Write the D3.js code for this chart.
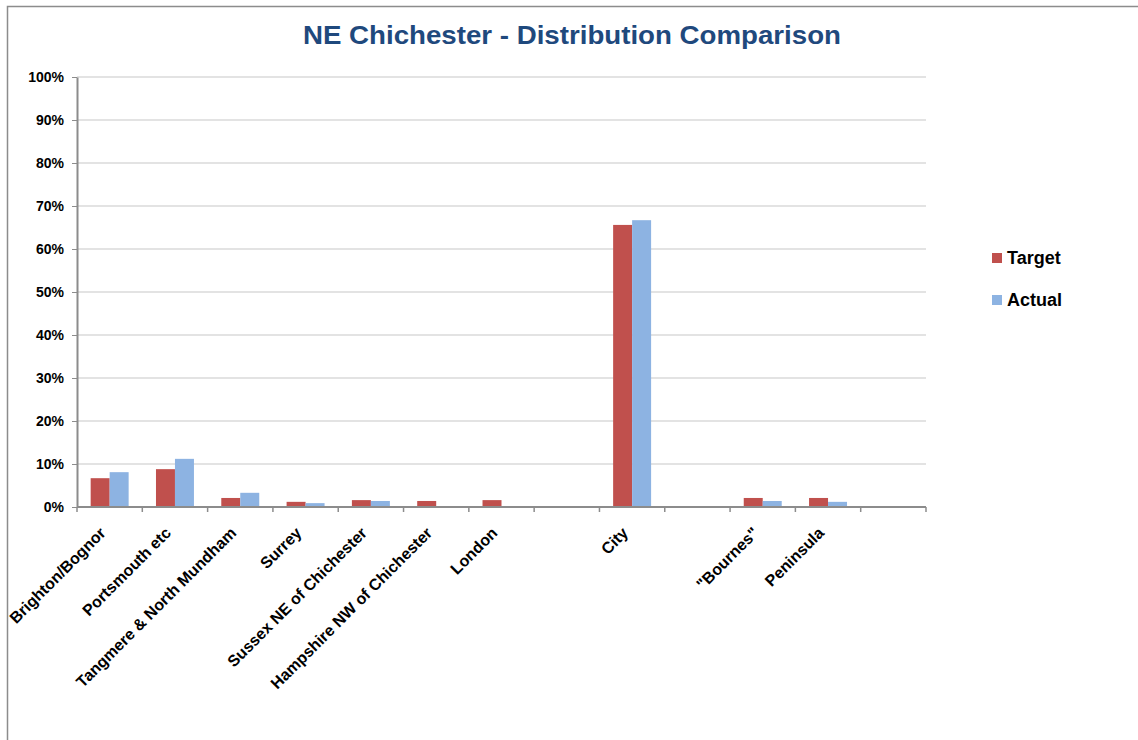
<!DOCTYPE html>
<html>
<head>
<meta charset="utf-8">
<script src="https://cdn.jsdelivr.net/npm/d3@7"></script>
<style>
  body { margin: 0; background: #fff; }
  svg { display: block; font-family: "Liberation Sans", Arial, sans-serif; }
</style>
</head>
<body>
<div id="chart"></div>
<script>
// categories (blank slots are empty strings, as in the original sheet)
const categories = ['Brighton/Bognor', 'Portsmouth etc', 'Tangmere & North Mundham', 'Surrey',
  'Sussex NE of Chichester', 'Hampshire NW of Chichester', 'London', '', 'City', '', '"Bournes"', 'Peninsula', ''];
const target = [6.7, 8.8, 2.1, 1.2, 1.6, 1.4, 1.6, 0, 65.6, 0, 2.1, 2.1, 0];
const actual = [8.1, 11.2, 3.3, 0.9, 1.4, 0, 0, 0, 66.7, 0, 1.4, 1.2, 0];
const seriesNames = ['Target', 'Actual'];
const seriesColors = ['#C0504D', '#8DB3E2'];
const yTicks = [0, 10, 20, 30, 40, 50, 60, 70, 80, 90, 100];

const width = 1138, height = 740;
const margin = { left: 77, right: 212, top: 77, bottom: 233 };

const svg = d3.select('#chart').append('svg')
  .attr('width', width)
  .attr('height', height);

// outer frame
svg.append('path')
  .attr('d', `M7.5,${height} V6.5 H${width}`)
  .attr('fill', 'none')
  .attr('stroke', '#8c8c8c')
  .attr('stroke-width', 1.5);

// title
svg.append('text')
  .attr('x', 572)
  .attr('y', 44)
  .attr('text-anchor', 'middle')
  .attr('font-size', 26)
  .attr('font-weight', 'bold')
  .attr('fill', '#1F497D')
  .attr('textLength', 538)
  .attr('lengthAdjust', 'spacingAndGlyphs')
  .text('NE Chichester - Distribution Comparison');

const x0 = d3.scaleBand()
  .domain(d3.range(categories.length))
  .range([margin.left, width - margin.right]);

const x1 = d3.scaleBand()
  .domain(d3.range(seriesNames.length))
  .range([0, x0.bandwidth()])
  .paddingInner(0)
  .paddingOuter(0.72);

const y = d3.scaleLinear()
  .domain([0, 100])
  .range([height - margin.bottom, margin.top]);

// gridlines
svg.append('g')
  .selectAll('line')
  .data(yTicks.filter(t => t > 0))
  .enter()
  .append('line')
  .attr('x1', margin.left)
  .attr('x2', width - margin.right)
  .attr('y1', d => y(d))
  .attr('y2', d => y(d))
  .attr('stroke', '#dadada')
  .attr('stroke-width', 1.5);

// bars
const rows = categories.map((c, i) => [target[i], actual[i]]);
svg.append('g')
  .selectAll('g')
  .data(rows)
  .enter()
  .append('g')
  .attr('transform', (d, i) => `translate(${x0(i)},0)`)
  .selectAll('rect')
  .data(d => d)
  .enter()
  .append('rect')
  .attr('x', (d, j) => x1(j))
  .attr('width', x1.bandwidth())
  .attr('y', d => y(d))
  .attr('height', d => y(0) - y(d))
  .attr('fill', (d, j) => seriesColors[j]);

// y axis
const yAxis = svg.append('g')
  .attr('transform', `translate(${margin.left},0)`)
  .call(d3.axisLeft(y).tickValues(yTicks).tickFormat(d => d + '%').tickSize(5).tickSizeOuter(0));
yAxis.select('.domain').attr('stroke', '#8c8c8c').attr('stroke-width', 2);
yAxis.selectAll('.tick line').attr('stroke', '#8c8c8c');
yAxis.selectAll('.tick text')
  .attr('x', -13)
  .attr('font-size', 14)
  .attr('font-weight', 'bold')
  .attr('fill', '#000')
  .attr('font-family', '"Liberation Sans", Arial, sans-serif');

// x axis: ticks between categories
const xg = svg.append('g');
xg.append('line')
  .attr('x1', margin.left)
  .attr('x2', width - margin.right)
  .attr('y1', y(0))
  .attr('y2', y(0))
  .attr('stroke', '#8c8c8c')
  .attr('stroke-width', 2);
xg.selectAll('.xtick')
  .data(d3.range(categories.length + 1))
  .enter()
  .append('line')
  .attr('class', 'xtick')
  .attr('x1', i => i < categories.length ? x0(i) : x0(i - 1) + x0.bandwidth())
  .attr('x2', i => i < categories.length ? x0(i) : x0(i - 1) + x0.bandwidth())
  .attr('y1', y(0))
  .attr('y2', y(0) + 5)
  .attr('stroke', '#8c8c8c')
  .attr('stroke-width', 1.5);

// rotated category labels
xg.selectAll('.xlabel')
  .data(categories)
  .enter()
  .append('text')
  .attr('class', 'xlabel')
  .attr('transform', (d, i) => `translate(${x0(i) + x0.bandwidth() / 2 - 3},${y(0) + 27}) rotate(-45)`)
  .attr('text-anchor', 'end')
  .attr('font-size', 16)
  .attr('font-weight', 'bold')
  .attr('fill', '#000')
  .text(d => d);

// legend
const legend = svg.append('g')
  .selectAll('g')
  .data(seriesNames)
  .enter()
  .append('g')
  .attr('transform', (d, i) => `translate(992,${253 + i * 42})`);
legend.append('rect')
  .attr('width', 10)
  .attr('height', 10)
  .attr('fill', (d, i) => seriesColors[i]);
legend.append('text')
  .attr('x', 15)
  .attr('y', 11)
  .attr('font-size', 18)
  .attr('font-weight', 'bold')
  .attr('fill', '#000')
  .text(d => d);
</script>
</body>
</html>
